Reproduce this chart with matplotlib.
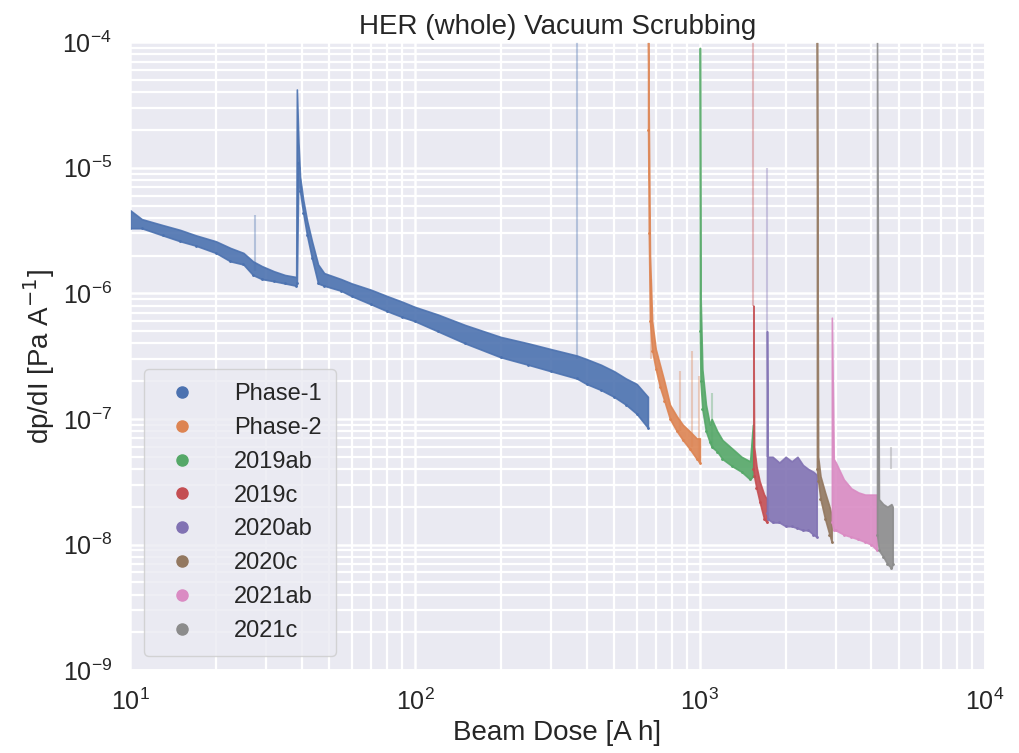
import numpy as np
import matplotlib
matplotlib.use("Agg")
import matplotlib.pyplot as plt
import seaborn as sns

# beam dose [A h] and lower / upper edge of the dp/dI band [Pa/A] per run
phase1_dose = [10, 11, 13, 15, 17, 20, 22.5, 25, 27, 29, 32, 35, 38.3, 38.5,
               39, 39.5, 40.5, 41.8, 43.5, 45.7, 48, 55, 60, 70, 80, 90, 100,
               120, 150, 200, 250, 300, 370, 400, 450, 500, 550, 600, 657]
phase1_lo = [3.3e-6, 3.3e-6, 2.9e-6, 2.6e-6, 2.4e-6, 2.1e-6, 1.8e-6, 1.7e-6,
             1.4e-6, 1.3e-6, 1.25e-6, 1.2e-6, 1.15e-6, 1.2e-6,
             1.1e-5, 6.5e-6, 4.4e-6, 2.9e-6, 1.9e-6, 1.2e-6, 1.15e-6, 1.05e-6,
             9.5e-7, 8.2e-7, 7.2e-7, 6.5e-7, 6.0e-7, 5.0e-7, 4.0e-7, 3.1e-7,
             2.7e-7, 2.4e-7, 2.1e-7, 1.9e-7, 1.7e-7, 1.5e-7, 1.3e-7, 1.1e-7, 8.5e-8]
phase1_hi = [4.6e-6, 3.9e-6, 3.5e-6, 3.2e-6, 2.9e-6, 2.6e-6, 2.3e-6, 2.1e-6,
             1.8e-6, 1.65e-6, 1.5e-6, 1.4e-6, 1.35e-6, 4.2e-5,
             1.6e-5, 8.5e-6, 5.6e-6, 3.8e-6, 2.6e-6, 1.7e-6, 1.45e-6, 1.3e-6,
             1.2e-6, 1.07e-6, 9.5e-7, 8.6e-7, 7.8e-7, 6.8e-7, 5.6e-7, 4.5e-7,
             4.0e-7, 3.6e-7, 3.2e-7, 3.0e-7, 2.7e-7, 2.4e-7, 2.1e-7, 1.9e-7, 1.5e-7]

phase2_dose = [658, 662, 668, 680, 700, 724, 750, 785, 830, 871, 920, 975, 1000]
phase2_lo = [2e-5, 3e-6, 6e-7, 3.5e-7, 2.5e-7, 1.8e-7, 1.4e-7, 1.0e-7, 8.0e-8,
             6.8e-8, 5.8e-8, 4.8e-8, 4.5e-8]
phase2_hi = [1e-4, 2e-5, 2e-6, 6e-7, 3.6e-7, 2.7e-7, 2.0e-7, 1.3e-7, 1.05e-7,
             9.0e-8, 8.0e-8, 7.0e-8, 7.0e-8]

r2019ab_dose = [1000, 1005, 1020, 1050, 1084, 1100, 1150, 1200, 1300, 1400, 1500, 1535]
r2019ab_lo = [5e-7, 2e-7, 1.2e-7, 8e-8, 6.5e-8, 6e-8, 5.5e-8, 4.8e-8, 4.2e-8,
              3.8e-8, 3.3e-8, 3.5e-8]
r2019ab_hi = [9e-5, 1e-6, 2.5e-7, 1.3e-7, 9e-8, 1.0e-7, 8e-8, 6.8e-8, 5.8e-8,
              5.0e-8, 4.6e-8, 9e-8]

r2019c_dose = [1540, 1550, 1580, 1620, 1680, 1720]
r2019c_lo = [4e-8, 3.5e-8, 2.8e-8, 2.2e-8, 1.6e-8, 1.5e-8]
r2019c_hi = [8e-7, 6e-8, 4.2e-8, 3.2e-8, 2.5e-8, 2.3e-8]

r2020ab_dose = [1720, 1730, 1800, 1900, 2000, 2100, 2200, 2300, 2400, 2500, 2570]
r2020ab_lo = [1.8e-8, 1.6e-8, 1.5e-8, 1.5e-8, 1.4e-8, 1.4e-8, 1.35e-8, 1.3e-8,
              1.3e-8, 1.2e-8, 1.15e-8]
r2020ab_hi = [5e-7, 5e-8, 5e-8, 4.5e-8, 5e-8, 4.6e-8, 5e-8, 4.3e-8, 4e-8,
              3.8e-8, 3.6e-8]

r2020c_dose = [2575, 2600, 2650, 2750, 2850, 2900]
r2020c_lo = [4e-8, 3.2e-8, 2.3e-8, 1.6e-8, 1.2e-8, 1.05e-8]
r2020c_hi = [1e-4, 5e-8, 3.5e-8, 2.6e-8, 2.0e-8, 1.7e-8]

r2021ab_dose = [2905, 2950, 3000, 3200, 3400, 3600, 3800, 4000, 4180]
r2021ab_lo = [1.5e-8, 1.3e-8, 1.3e-8, 1.2e-8, 1.15e-8, 1.1e-8, 1.05e-8, 1.0e-8, 9e-9]
r2021ab_hi = [6.4e-7, 4.8e-8, 4.5e-8, 3.3e-8, 2.8e-8, 2.6e-8, 2.5e-8, 2.5e-8, 2.5e-8]

r2021c_dose = [4185, 4250, 4400, 4550, 4700, 4750]
r2021c_lo = [1.2e-8, 9e-9, 8e-9, 7e-9, 6.5e-9, 7e-9]
r2021c_hi = [1e-4, 2.3e-8, 2.1e-8, 2.0e-8, 2.1e-8, 2.0e-8]

# isolated bursts (dose, bottom, top, run index)
burst_dose = [27.5, 370, 672, 851, 937, 990, 1100, 1540, 1725, 4700]
burst_lo = [1.5e-6, 3e-7, 3e-7, 8e-8, 6e-8, 4.5e-8, 6e-8, 8e-7, 5e-8, 4e-8]
burst_hi = [4.2e-6, 1e-4, 1.3e-6, 2.4e-7, 3.5e-7, 2.2e-7, 1.6e-7, 1e-4, 1e-5, 6e-8]
burst_run = [0, 0, 1, 1, 1, 1, 2, 3, 4, 7]

labels = ["Phase-1", "Phase-2", "2019ab", "2019c", "2020ab", "2020c", "2021ab", "2021c"]
doses = [phase1_dose, phase2_dose, r2019ab_dose, r2019c_dose, r2020ab_dose,
         r2020c_dose, r2021ab_dose, r2021c_dose]
lows = [phase1_lo, phase2_lo, r2019ab_lo, r2019c_lo, r2020ab_lo, r2020c_lo,
        r2021ab_lo, r2021c_lo]
highs = [phase1_hi, phase2_hi, r2019ab_hi, r2019c_hi, r2020ab_hi, r2020c_hi,
         r2021ab_hi, r2021c_hi]

sns.set_theme(style="darkgrid")
plt.rcParams['font.family'] = ['Liberation Sans', 'DejaVu Sans']
colors = sns.color_palette("deep", 8)

fig = plt.figure(figsize=(10.2, 7.53), dpi=100)
ax = fig.add_axes([0.1275, 0.110, 0.838, 0.834])

for i in range(len(labels)):
    c = colors[i]
    ax.fill_between(doses[i], lows[i], highs[i], color=c, alpha=0.9, lw=1.2,
                    edgecolor=c)
    ax.plot(doses[i], lows[i], 'o', ms=1, color=c, label=labels[i])

for d, lo, hi, r in zip(burst_dose, burst_lo, burst_hi, burst_run):
    ax.vlines(d, lo, hi, color=colors[r], lw=1.5, alpha=0.35)

ax.set_xscale('log')
ax.set_yscale('log')
ax.set_xlim(10, 1e4)
ax.set_ylim(1e-9, 1e-4)
ax.grid(True, which='major', color='white', lw=1.8)
ax.grid(True, which='minor', color='white', lw=1.6)
ax.tick_params(axis='both', which='major', labelsize=18, pad=7)

ax.set_title("HER (whole) Vacuum Scrubbing", fontsize=20)
ax.set_xlabel("Beam Dose [A h]", fontsize=20)
ax.set_ylabel("dp/dI [Pa A$^{-1}$]", fontsize=20)

leg = ax.legend(loc='lower left', fontsize=17, markerscale=8,
                borderaxespad=0.6, handletextpad=1.2, borderpad=0.6)

fig.savefig("out.png", dpi=100)
